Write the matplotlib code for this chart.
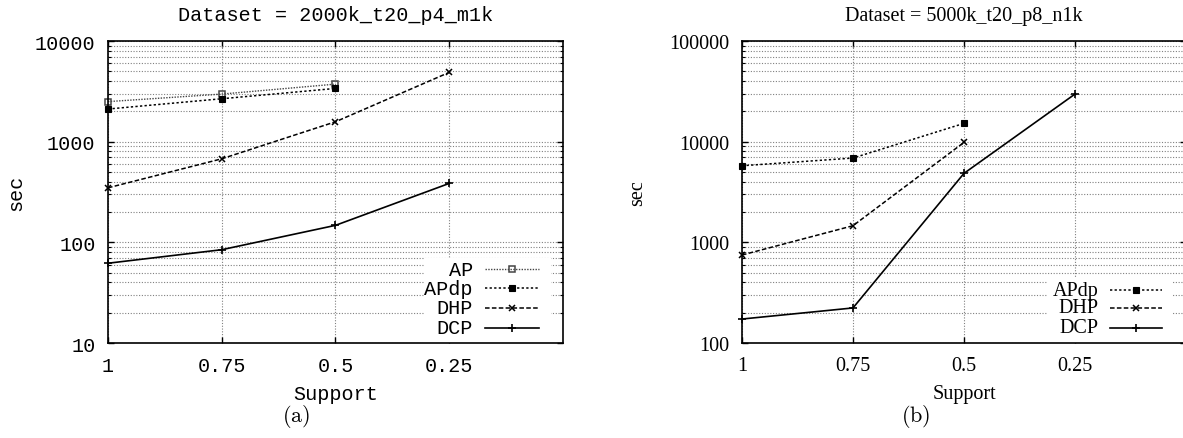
import matplotlib
matplotlib.use('Agg')
import matplotlib.pyplot as plt
from matplotlib.ticker import LogLocator, FixedLocator, FuncFormatter, NullFormatter
from matplotlib.patches import Rectangle

plt.rcParams['mathtext.fontset'] = 'cm'

# data
support = [1, 0.75, 0.5, 0.25]
support_labels = ['1', '0.75', '0.5', '0.25']

title_a = 'Dataset = 2000k_t20_p4_m1k'
ap_a = [2500, 2970, 3730]
apdp_a = [2110, 2670, 3380]
dhp_a = [348, 676, 1577, 4880]
dcp_a = [62, 84.5, 147.5, 385]

title_b = 'Dataset = 5000k_t20_p8_n1k'
apdp_b = [5765, 6875, 15200]
dhp_b = [748, 1462, 9840]
dcp_b = [173, 223, 4843, 29700]

# gnuplot-ish styles per series
styles = {
    'AP':   dict(color='#444444', ls=(0, (1, 1)), lw=1.0, marker='s', ms=5, mfc='none', mew=1.1),
    'APdp': dict(color='black', ls=(0, (1.5, 1.5)), lw=1.1, marker='s', ms=4.5, mfc='black', mew=0.8),
    'DHP':  dict(color='black', ls=(0, (3, 1.5)), lw=1.1, marker='x', ms=5, mew=1.1),
    'DCP':  dict(color='black', ls='-', lw=1.2, marker='+', ms=6, mew=1.2),
}

FS = 14.5
fig = plt.figure(figsize=(11.83, 4.39), dpi=100)


def setup(ax, font, title, ylo, yhi, ylab_x):
    ax.set_yscale('log')
    ax.set_xlim(1, 0)
    ax.set_ylim(ylo, yhi)
    ax.xaxis.set_major_locator(FixedLocator(support))
    ax.xaxis.set_major_formatter(FuncFormatter(lambda v, p: support_labels[support.index(v)] if v in support else ''))
    ax.yaxis.set_major_locator(LogLocator(base=10))
    ax.yaxis.set_minor_locator(LogLocator(base=10, subs=range(2, 10)))
    ax.yaxis.set_major_formatter(FuncFormatter(lambda v, p: '%d' % round(v)))
    ax.yaxis.set_minor_formatter(NullFormatter())
    ax.grid(True, which='major', color='#808080', ls=(0, (1, 1.5)), lw=0.8)
    ax.grid(True, which='minor', axis='y', color='#808080', ls=(0, (1, 1.5)), lw=0.8)
    ax.set_axisbelow(True)
    ax.tick_params(which='both', direction='in', top=True, right=True, color='black')
    ax.tick_params(which='major', length=4, width=1.0, pad=9)
    ax.tick_params(which='minor', length=2.5, width=0.8)
    for s in ax.spines.values():
        s.set_linewidth(1.2)
    for lab in ax.get_xticklabels() + ax.get_yticklabels():
        lab.set_family(font)
        lab.set_fontsize(FS)
    ax.set_title(title, family=font, fontsize=FS, pad=15)
    ax.set_xlabel('Support', family=font, fontsize=FS, va='center')
    ax.xaxis.set_label_coords(0.5, -0.168)
    ax.set_ylabel('sec', family=font, fontsize=FS, va='center')
    ax.yaxis.set_label_coords(ylab_x, 0.5)


def key(ax, font, names, rows, box):
    ax.add_patch(Rectangle((box[0], 0), box[1] - box[0], box[2], transform=ax.transAxes,
                           facecolor='white', edgecolor='none', zorder=1.5))
    for name, y in zip(names, rows):
        st = styles[name]
        ax.text(0.802, y, name, transform=ax.transAxes, ha='right', va='center',
                family=font, fontsize=FS, zorder=3)
        ax.plot([0.829, 0.947], [y, y], transform=ax.transAxes, color=st['color'],
                ls=st['ls'], lw=st['lw'], zorder=3, clip_on=False)
        ax.plot([0.888], [y], transform=ax.transAxes, color=st['color'], ls='none',
                marker=st['marker'], ms=st['ms'], mfc=st.get('mfc', st['color']),
                mec=st['color'], mew=st['mew'], zorder=3)


# (a)
ax1 = fig.add_axes([0.0913, 0.2164, 0.3846, 0.6879])
setup(ax1, 'Liberation Mono', title_a, 10, 10000, -0.202)
for name, vals in [('AP', ap_a), ('APdp', apdp_a), ('DHP', dhp_a), ('DCP', dcp_a)]:
    ax1.plot(support[:len(vals)], vals, zorder=2, clip_on=False, **styles[name])
key(ax1, 'Liberation Mono', ['AP', 'APdp', 'DHP', 'DCP'], [0.245, 0.182, 0.116, 0.050],
    (0.6945, 0.9736, 0.281))

# (b)
ax2 = fig.add_axes([0.6272, 0.2164, 0.3753, 0.6879])
setup(ax2, 'Liberation Serif', title_b, 100, 100000, -0.236)
for name, vals in [('APdp', apdp_b), ('DHP', dhp_b), ('DCP', dcp_b)]:
    ax2.plot(support[:len(vals)], vals, zorder=2, clip_on=False, **styles[name])
key(ax2, 'Liberation Serif', ['APdp', 'DHP', 'DCP'], [0.1755, 0.116, 0.050],
    (0.689, 0.971, 0.215))

fig.text(0.250, 0.052, r'$\mathrm{(a)}$', ha='center', va='center', fontsize=16)
fig.text(0.774, 0.052, r'$\mathrm{(b)}$', ha='center', va='center', fontsize=16)

fig.savefig('out.png', dpi=100)
